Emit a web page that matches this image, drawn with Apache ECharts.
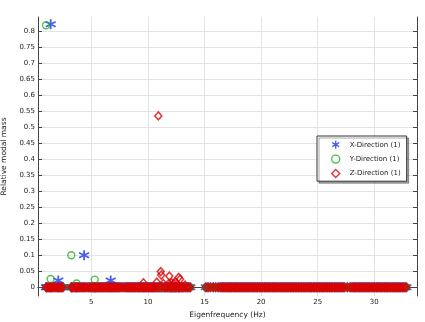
<!DOCTYPE html>
<html>
<head>
<meta charset="utf-8">
<script src="https://cdn.jsdelivr.net/npm/echarts@6/dist/echarts.min.js"></script>
<style>
html,body{margin:0;padding:0;background:#fff;}
#c{width:425px;height:322px;}
</style>
</head>
<body>
<div id="c"></div>
<script>
// Tick labels
const xTicks = [5, 10, 15, 20, 25, 30];
const yTicks = [0, 0.05, 0.1, 0.15, 0.2, 0.25, 0.3, 0.35, 0.4, 0.45, 0.5, 0.55, 0.6, 0.65, 0.7, 0.75, 0.8];

// Eigenfrequencies (Hz) of modes whose relative modal mass is ~0 in every direction
const zeroModeFreqs = [
  1.08, 1.19, 1.31, 1.44, 1.55, 1.69, 1.8, 1.94, 2.05, 2.17, 2.26, 2.38, 2.49,
  3.26, 3.37, 3.51, 3.6, 3.74, 3.86, 3.97, 4.09, 4.2, 4.33, 4.45, 4.61, 4.74, 4.86, 4.97,
  5.08, 5.17, 5.27, 5.38, 5.47, 5.58, 5.66, 5.77, 5.88, 5.96, 6.07, 6.18, 6.27, 6.38, 6.47,
  6.58, 6.66, 6.78, 6.88, 6.97, 7.08, 7.19, 7.28, 7.39, 7.5, 7.63, 7.79, 7.93, 8.06, 8.16,
  8.27, 8.36, 8.47, 8.56, 8.66, 8.77, 8.86, 8.96, 9.07, 9.16, 9.27, 9.36, 9.47, 9.58, 9.69,
  9.78, 9.89, 9.98, 10.08, 10.19, 10.28, 10.39, 10.48, 10.58, 10.68, 10.86, 11.03, 11.24,
  11.44, 11.53, 11.64, 11.74, 11.96, 12.04, 12.19, 12.27, 12.46, 12.53, 12.68, 12.76, 12.93,
  13.04, 13.16, 13.37, 13.48, 13.61, 13.74,
  15.12, 15.31, 15.52, 15.77, 15.98, 16.21, 16.39, 16.52, 16.64, 16.74, 16.87, 16.97, 17.09,
  17.2, 17.32, 17.41, 17.54, 17.64, 17.77, 17.87, 17.99, 18.11, 18.21, 18.34, 18.44, 18.57,
  18.67, 18.79, 18.91, 19.01, 19.14, 19.24, 19.37, 19.46, 19.6, 19.69, 19.83, 19.92, 20.06,
  20.15, 20.29, 20.38, 20.51, 20.61, 20.74, 20.84, 20.97, 21.07, 21.2, 21.29, 21.43, 21.52,
  21.66, 21.75, 21.89, 21.98, 22.11, 22.21, 22.34, 22.44, 22.57, 22.67, 22.8, 22.89, 23.03,
  23.12, 23.26, 23.35, 23.49, 23.58, 23.71, 23.81, 23.94, 24.04, 24.17, 24.27, 24.4, 24.49,
  24.63, 24.72, 24.86, 24.95, 25.09, 25.18, 25.31, 25.41, 25.54, 25.64, 25.77, 25.87, 26.0,
  26.09, 26.23, 26.32, 26.46, 26.55, 26.69, 26.78, 26.91, 27.01, 27.14, 27.24, 27.37, 27.62,
  27.86, 28.01, 28.13, 28.22, 28.36, 28.45, 28.59, 28.68, 28.81, 28.91, 29.04, 29.14, 29.27,
  29.37, 29.5, 29.59, 29.73, 29.82, 29.96, 30.05, 30.19, 30.28, 30.41, 30.51, 30.64, 30.74,
  30.87, 30.97, 31.1, 31.19, 31.33, 31.42, 31.56, 31.65, 31.79, 31.88, 32.01, 32.11, 32.24,
  32.34, 32.47, 32.57, 32.7, 32.83
];

// Modes with visible modal mass
const xPeakFreqs = [1.41, 2.08, 4.36, 6.71];
const xPeakMass  = [0.821, 0.021, 0.1, 0.021];
const yPeakFreqs = [1.0, 1.41, 3.23, 3.7, 5.3];
const yPeakMass  = [0.818, 0.026, 0.1, 0.012, 0.024];
const zPeakFreqs = [9.6, 10.78, 10.92, 11.13, 11.18, 11.36, 11.86, 11.89, 12.1, 12.33, 12.4, 12.72, 12.84, 13.28];
const zPeakMass  = [0.014, 0.016, 0.535, 0.049, 0.038, 0.012, 0.012, 0.035, 0.014, 0.012, 0.017, 0.031, 0.025, 0.007];

const seriesNames = ['X-Direction (1)', 'Y-Direction (1)', 'Z-Direction (1)'];
const colors = ['#1a36f0', '#22b022', '#dd0000'];

function buildData(peakF, peakM, otherF) {
  const pts = [];
  otherF.forEach(f => pts.push([f, 0]));
  peakF.forEach((f, i) => pts.push([f, peakM[i]]));
  return pts;
}
const xData = buildData(xPeakFreqs, xPeakMass, zeroModeFreqs.concat(yPeakFreqs.filter(f => f !== 1.41), zPeakFreqs));
const yData = buildData(yPeakFreqs, yPeakMass, zeroModeFreqs.concat(xPeakFreqs.filter(f => f !== 1.41), zPeakFreqs));
const zData = buildData(zPeakFreqs, zPeakMass, zeroModeFreqs.concat(xPeakFreqs, yPeakFreqs));

const FONT = 'DejaVu Sans';
const asterisk = 'path://M5,0L5,10M0.67,2.5L9.33,7.5M0.67,7.5L9.33,2.5';

const xMin = 0.29, xMax = 33.77, yMin = -0.0272, yMax = 0.8437;

const axisLine = {show: true, lineStyle: {color: '#444', width: 1}};
const tick = (vals) => ({show: true, inside: true, length: 4, customValues: vals, lineStyle: {color: '#444'}});

const chart = echarts.init(document.getElementById('c'), null, {renderer: 'canvas'});
chart.setOption({
  animation: false,
  backgroundColor: '#fff',
  grid: {left: 38, right: 8, top: 17, bottom: 26, containLabel: false, outerBoundsMode: 'none'},
  xAxis: [{
    type: 'value', min: xMin, max: xMax, position: 'bottom',
    axisLine: axisLine, axisTick: tick(xTicks),
    axisLabel: {customValues: xTicks, fontSize: 7, fontFamily: FONT, color: '#222', margin: 3},
    splitLine: {show: true, lineStyle: {color: '#e3e3e3', width: 1}},
    name: 'Eigenfrequency (Hz)', nameLocation: 'middle', nameGap: 9,
    nameTextStyle: {fontSize: 7.5, fontFamily: FONT, color: '#222'}
  }, {
    type: 'value', min: xMin, max: xMax, position: 'top',
    axisLine: axisLine, axisTick: tick(xTicks),
    axisLabel: {show: false}, splitLine: {show: false}
  }],
  yAxis: [{
    type: 'value', min: yMin, max: yMax, position: 'left',
    axisLine: axisLine, axisTick: tick(yTicks),
    axisLabel: {customValues: yTicks, fontSize: 7, fontFamily: FONT, color: '#222', margin: 3},
    splitLine: {show: true, lineStyle: {color: '#e3e3e3', width: 1}},
    name: 'Relative modal mass', nameLocation: 'middle', nameGap: 23,
    nameTextStyle: {fontSize: 7.5, fontFamily: FONT, color: '#222'}
  }, {
    type: 'value', min: yMin, max: yMax, position: 'right',
    axisLine: axisLine, axisTick: tick(yTicks),
    axisLabel: {show: false}, splitLine: {show: false}
  }],
  legend: {
    orient: 'vertical', left: 317, top: 136,
    padding: [4, 6, 3, 14], itemGap: 5, itemWidth: 8, itemHeight: 8,
    backgroundColor: '#fff', borderColor: '#333', borderWidth: 1,
    shadowColor: 'rgba(0,0,0,0.35)', shadowBlur: 0, shadowOffsetX: 2, shadowOffsetY: 2,
    itemStyle: {borderWidth: 1.4},
    textStyle: {fontSize: 7, fontFamily: FONT, color: '#222', padding: [0, 0, 0, 5]},
    data: seriesNames
  },
  series: [
    {name: seriesNames[0], type: 'scatter', data: xData, symbol: asterisk, symbolSize: [10, 10],
     itemStyle: {color: 'transparent', borderColor: colors[0], borderWidth: 1.8}},
    {name: seriesNames[1], type: 'scatter', data: yData, symbol: 'circle', symbolSize: 7,
     itemStyle: {color: 'transparent', borderColor: colors[1], borderWidth: 1.4}},
    {name: seriesNames[2], type: 'scatter', data: zData, symbol: 'diamond', symbolSize: [7, 8],
     itemStyle: {color: 'transparent', borderColor: colors[2], borderWidth: 1.5}}
  ]
});
</script>
</body>
</html>
